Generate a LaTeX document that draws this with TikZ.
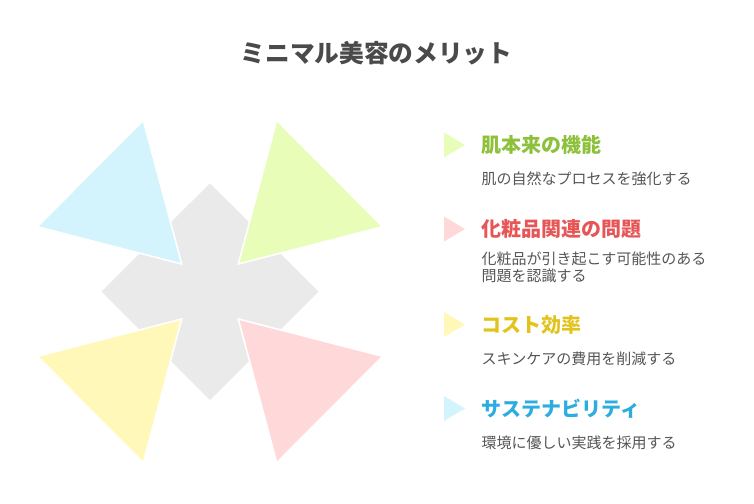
\documentclass[tikz,border=0pt]{standalone}
\usepackage{fontspec}
\setmainfont{Noto Sans CJK JP}
\usetikzlibrary{positioning}

\definecolor{titlegray}{HTML}{4A4A4A}
\definecolor{descgray}{HTML}{555555}
\definecolor{crossgray}{HTML}{EAEAEA}
\definecolor{petalblue}{HTML}{D3F3FD}
\definecolor{petalgreen}{HTML}{E8FDB8}
\definecolor{petalyellow}{HTML}{FFF8B9}
\definecolor{petalpink}{HTML}{FFD9D9}
\definecolor{headgreen}{HTML}{8DC03B}
\definecolor{headred}{HTML}{E65656}
\definecolor{headyellow}{HTML}{E2C31D}
\definecolor{headblue}{HTML}{2DADDF}

\begin{document}
\begin{tikzpicture}[x=1pt,y=-1pt,
    petal/.style={draw=white,line width=1.6pt,line join=miter},
    heading/.style={anchor=west,inner sep=0pt,font=\fontsize{20}{24}\selectfont\bfseries},
    desc/.style={anchor=west,inner sep=0pt,align=left,text=descgray,font=\fontsize{15}{17}\selectfont}]
  \useasboundingbox (0,0) rectangle (754,503);

  \node[text=titlegray,font=\fontsize{24.7}{28}\selectfont\bfseries] (title) at (376.5,53) {ミニマル美容のメリット};

  \fill[crossgray] (210,183.3) -- (318.5,291.5) -- (210,400) -- (101.5,291.5) -- cycle;
  \filldraw[petal,fill=petalblue] (143.3,120.3) -- (37.3,226.7) -- (181.7,264) -- cycle;
  \filldraw[petal,fill=petalgreen] (276.7,120.3) -- (382.7,226.7) -- (238.3,264) -- cycle;
  \filldraw[petal,fill=petalyellow] (143.3,462.7) -- (37.3,356.3) -- (181.7,319) -- cycle;
  \filldraw[petal,fill=petalpink] (276.7,462.7) -- (382.7,356.3) -- (238.3,319) -- cycle;

  \fill[petalgreen] (444,132.5) -- (465,145) -- (444,157.5) -- cycle;
  \node[heading,text=headgreen] (skin) at (481.5,145) {肌本来の機能};
  \node[desc] (skindesc) at (481.5,178.5) {肌の自然なプロセスを強化する};

  \fill[petalpink] (444,216.5) -- (465,229) -- (444,241.5) -- cycle;
  \node[heading,text=headred] (cosme) at (481.5,229) {化粧品関連の問題};
  \node[desc] (cosmedesc) at (481.5,267) {化粧品が引き起こす可能性のある\\問題を認識する};

  \fill[petalyellow] (444,312) -- (465,324.5) -- (444,337) -- cycle;
  \node[heading,text=headyellow] (cost) at (481.5,324.5) {コスト効率};
  \node[desc] (costdesc) at (481.5,359) {スキンケアの費用を削減する};

  \fill[petalblue] (444,396) -- (465,408.5) -- (444,421) -- cycle;
  \node[heading,text=headblue] (eco) at (481.5,408.5) {サステナビリティ};
  \node[desc] (ecodesc) at (481.5,443) {環境に優しい実践を採用する};
\end{tikzpicture}
\end{document}
